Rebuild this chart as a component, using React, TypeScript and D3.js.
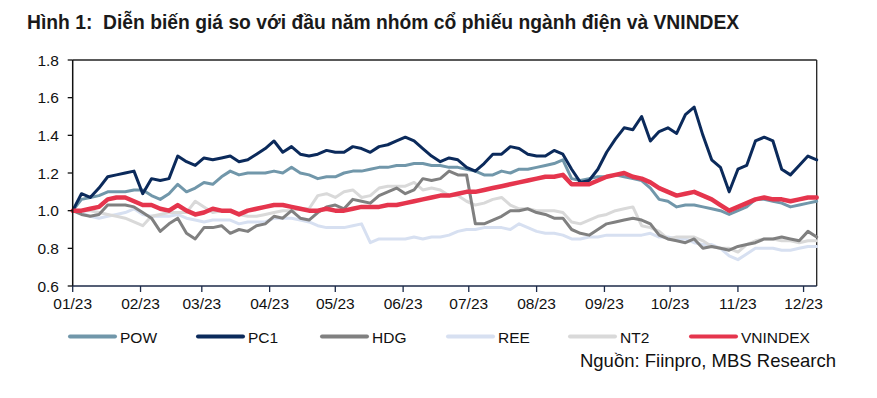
import React from "react";
import * as d3 from "d3";

const TITLE = "Hình 1:  Diễn biến giá so với đầu năm nhóm cổ phiếu ngành điện và VNINDEX";
const SOURCE = "Nguồn: Fiinpro, MBS Research";
const START_DATE = new Date(2023, 0, 1);
const END_DATE = new Date(2023, 11, 7);
const STEP_DAYS = 4;
const Y_TICKS = [0.6, 0.8, 1.0, 1.2, 1.4, 1.6, 1.8];

const POW = [
  1.00, 1.06, 1.07, 1.08, 1.10, 1.10, 1.10, 1.11, 1.11, 1.08,
  1.06, 1.09, 1.14, 1.10, 1.12, 1.15, 1.14, 1.18, 1.21, 1.19,
  1.20, 1.20, 1.20, 1.21, 1.20, 1.23, 1.20, 1.19, 1.17, 1.18,
  1.18, 1.20, 1.21, 1.21, 1.22, 1.23, 1.23, 1.24, 1.24, 1.25,
  1.25, 1.24, 1.24, 1.23, 1.23, 1.22, 1.21, 1.19, 1.19, 1.21,
  1.20, 1.22, 1.22, 1.23, 1.24, 1.25, 1.27, 1.17, 1.16, 1.17,
  1.18, 1.18, 1.19, 1.18, 1.17, 1.16, 1.12, 1.06, 1.05, 1.02,
  1.03, 1.03, 1.02, 1.01, 1.00, 0.98, 1.00, 1.02, 1.06, 1.06,
  1.05, 1.04, 1.02, 1.03, 1.04, 1.05,
];
const PC1 = [
  1.00, 1.09, 1.07, 1.12, 1.18, 1.19, 1.20, 1.21, 1.09, 1.17,
  1.16, 1.17, 1.29, 1.26, 1.24, 1.28, 1.27, 1.28, 1.29, 1.26,
  1.27, 1.30, 1.33, 1.37, 1.31, 1.34, 1.30, 1.29, 1.30, 1.32,
  1.31, 1.31, 1.34, 1.33, 1.31, 1.34, 1.35, 1.37, 1.39, 1.37,
  1.33, 1.29, 1.26, 1.28, 1.27, 1.23, 1.21, 1.25, 1.30, 1.30,
  1.34, 1.33, 1.30, 1.29, 1.29, 1.32, 1.30, 1.22, 1.15, 1.16,
  1.22, 1.31, 1.38, 1.44, 1.43, 1.50, 1.37, 1.42, 1.44, 1.41,
  1.51, 1.55, 1.40, 1.27, 1.23, 1.10, 1.22, 1.24, 1.37, 1.39,
  1.37, 1.22, 1.19, 1.24, 1.29, 1.27,
];
const HDG = [
  1.00, 0.98, 0.97, 0.98, 1.03, 1.03, 1.03, 1.02, 0.99, 0.96,
  0.89, 0.93, 0.96, 0.88, 0.85, 0.91, 0.91, 0.92, 0.88, 0.90,
  0.89, 0.92, 0.93, 0.97, 0.96, 1.00, 0.96, 0.95, 0.99, 1.02,
  1.03, 1.01, 1.06, 1.05, 1.04, 1.08, 1.10, 1.12, 1.09, 1.11,
  1.17, 1.16, 1.17, 1.21, 1.19, 1.19, 0.93, 0.93, 0.95, 0.97,
  1.00, 1.00, 1.01, 0.99, 0.98, 0.96, 0.96, 0.90, 0.88, 0.87,
  0.90, 0.93, 0.94, 0.95, 0.96, 0.95, 0.93, 0.87, 0.85, 0.84,
  0.83, 0.85, 0.80, 0.81, 0.80, 0.79, 0.81, 0.82, 0.83, 0.85,
  0.85, 0.86, 0.85, 0.84, 0.89, 0.86,
];
const REE = [
  1.00, 0.99, 0.97, 0.96, 0.97, 0.98, 0.99, 1.01, 0.98, 0.97,
  0.97, 0.97, 0.98, 0.96, 0.95, 0.94, 0.95, 0.95, 0.95, 0.93,
  0.94, 0.94, 0.94, 0.96, 0.96, 0.96, 0.95, 0.94, 0.92, 0.91,
  0.91, 0.91, 0.92, 0.93, 0.83, 0.85, 0.85, 0.85, 0.85, 0.86,
  0.85, 0.86, 0.86, 0.87, 0.89, 0.90, 0.90, 0.91, 0.91, 0.91,
  0.90, 0.93, 0.91, 0.89, 0.88, 0.88, 0.87, 0.85, 0.85, 0.86,
  0.86, 0.87, 0.87, 0.87, 0.87, 0.87, 0.88, 0.86, 0.86, 0.85,
  0.85, 0.83, 0.82, 0.82, 0.80, 0.76, 0.74, 0.77, 0.80, 0.80,
  0.80, 0.79, 0.79, 0.80, 0.81, 0.81,
];
const NT2 = [
  1.00, 1.00, 1.00, 0.99, 0.98, 0.97, 0.96, 0.94, 0.92, 0.97,
  0.98, 0.99, 0.99, 0.99, 1.05, 1.02, 0.99, 1.00, 1.00, 0.98,
  0.97, 0.97, 0.98, 0.99, 1.00, 1.00, 1.01, 1.01, 1.08, 1.09,
  1.07, 1.10, 1.11, 1.07, 1.08, 1.12, 1.13, 1.13, 1.13, 1.15,
  1.11, 1.12, 1.11, 1.08, 1.08, 1.05, 1.03, 1.04, 1.06, 1.07,
  1.03, 1.01, 1.01, 1.00, 1.00, 1.00, 0.99, 0.94, 0.93, 0.95,
  0.97, 0.98, 1.00, 1.01, 1.02, 0.92, 0.91, 0.89, 0.85, 0.86,
  0.86, 0.86, 0.84, 0.81, 0.80, 0.80, 0.78, 0.82, 0.84, 0.85,
  0.85, 0.84, 0.84, 0.83, 0.84, 0.84,
];
const VNINDEX = [
  1.00, 1.00, 1.01, 1.02, 1.06, 1.07, 1.07, 1.05, 1.03, 1.03,
  1.01, 1.00, 1.03, 1.00, 0.98, 0.99, 1.01, 1.00, 1.00, 0.98,
  1.00, 1.01, 1.02, 1.03, 1.03, 1.02, 1.01, 1.00, 1.00, 1.01,
  1.00, 1.00, 1.01, 1.02, 1.02, 1.02, 1.03, 1.03, 1.04, 1.05,
  1.06, 1.07, 1.08, 1.08, 1.09, 1.10, 1.10, 1.11, 1.12, 1.13,
  1.14, 1.15, 1.16, 1.17, 1.18, 1.18, 1.19, 1.14, 1.14, 1.14,
  1.16, 1.18, 1.19, 1.20, 1.18, 1.17, 1.15, 1.12, 1.10, 1.08,
  1.09, 1.10, 1.08, 1.06, 1.03, 1.00, 1.02, 1.04, 1.06, 1.07,
  1.06, 1.06, 1.05, 1.06, 1.07, 1.07,
];

const SERIES = [
  { name: "POW", values: POW, color: "#7197aa", width: 3 },
  { name: "PC1", values: PC1, color: "#0b2a5b", width: 3 },
  { name: "HDG", values: HDG, color: "#808080", width: 3 },
  { name: "REE", values: REE, color: "#d7e0f1", width: 3 },
  { name: "NT2", values: NT2, color: "#d9d9d9", width: 3 },
  { name: "VNINDEX", values: VNINDEX, color: "#e5354d", width: 4.5 },
];
const DRAW_ORDER = ["REE", "NT2", "HDG", "POW", "PC1", "VNINDEX"];

const W = 877;
const H = 398;
const X0 = 72.7;
const X1 = 816.7;
const Y0 = 286;
const Y1 = 60;
const FONT = "Arial, 'Liberation Sans', Helvetica, sans-serif";

export default function App() {
  const x = d3.scaleTime().domain([START_DATE, END_DATE]).range([X0, X1]);
  const y = d3.scaleLinear().domain([0.6, 1.8]).range([Y0, Y1]);
  const months = d3.timeMonth.range(START_DATE, END_DATE);
  const fmt = d3.timeFormat("%m/%y");
  const line = d3
    .line<number>()
    .x((_, i) => x(d3.timeDay.offset(START_DATE, i * STEP_DAYS)))
    .y((v) => y(v));

  const legendX = [70, 198, 322, 448, 570, 691];

  return (
    <svg
      width={W}
      height={H}
      style={{ position: "fixed", left: 0, top: 0, background: "#fff" }}
      fontFamily={FONT}
    >
      <text
        x={27}
        y={29}
        fontSize={19.3}
        fontWeight="bold"
        fill="#1a1a1a"
        style={{ whiteSpace: "pre" }}
      >
        {TITLE}
      </text>

      {/* frame */}
      <line x1={X0} x2={X1} y1={Y1} y2={Y1} stroke="#222" strokeWidth={1.3} />
      <line x1={X1} x2={X1} y1={Y1} y2={Y0} stroke="#222" strokeWidth={1.3} />

      {/* series */}
      {DRAW_ORDER.map((n) => {
        const s = SERIES.find((d) => d.name === n)!;
        return (
          <path
            key={n}
            d={line(s.values) || ""}
            fill="none"
            stroke={s.color}
            strokeWidth={s.width}
            strokeLinejoin="round"
            strokeLinecap="round"
          />
        );
      })}

      {/* y axis */}
      <line x1={X0} x2={X0} y1={Y1} y2={Y0} stroke="#111" strokeWidth={1.5} />
      {Y_TICKS.map((t) => (
        <g key={t}>
          <line x1={X0 - 5} x2={X0} y1={y(t)} y2={y(t)} stroke="#111" strokeWidth={1.3} />
          <text x={59} y={y(t) + 5.5} fontSize={15.5} textAnchor="end" fill="#111">
            {t.toFixed(1)}
          </text>
        </g>
      ))}

      {/* x axis */}
      <line x1={X0} x2={X1} y1={Y0} y2={Y0} stroke="#1c2a48" strokeWidth={1.5} />
      {months.map((m) => (
        <g key={m.getTime()}>
          <line x1={x(m)} x2={x(m)} y1={Y0} y2={Y0 + 6} stroke="#1c2a48" strokeWidth={1.3} />
          <text x={x(m)} y={309} fontSize={15.5} textAnchor="middle" fill="#111">
            {fmt(m)}
          </text>
        </g>
      ))}

      {/* legend */}
      {SERIES.map((s, i) => (
        <g key={s.name}>
          <line
            x1={legendX[i]}
            x2={legendX[i] + 45}
            y1={336.5}
            y2={336.5}
            stroke={s.color}
            strokeWidth={4}
            strokeLinecap="round"
          />
          <text x={legendX[i] + 50} y={342.5} fontSize={15.5} fill="#111">
            {s.name}
          </text>
        </g>
      ))}

      <text x={836} y={367} fontSize={18.5} textAnchor="end" fill="#111">
        {SOURCE}
      </text>
    </svg>
  );
}
